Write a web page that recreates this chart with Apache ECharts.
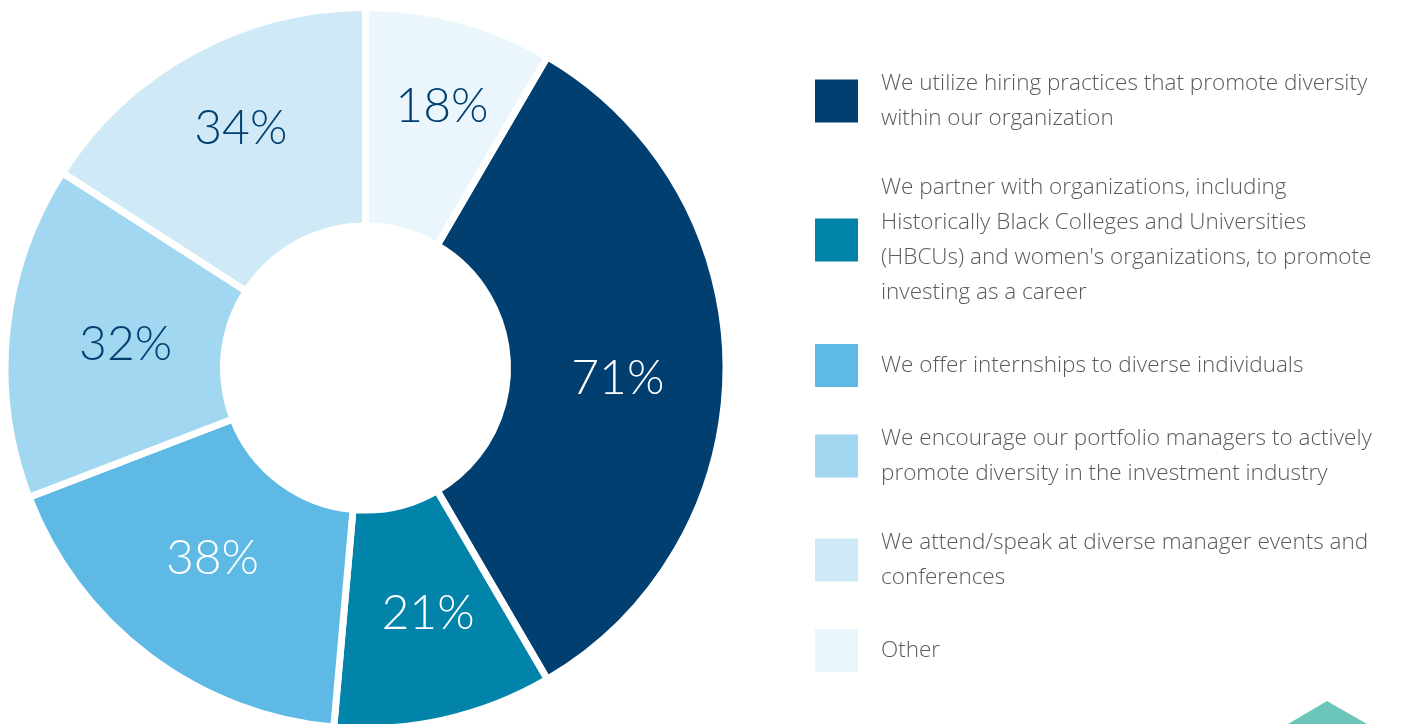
<!DOCTYPE html>
<html>
<head>
<meta charset="utf-8">
<title>Diversity initiatives</title>
<script src="https://cdn.jsdelivr.net/npm/echarts@6/dist/echarts.min.js"></script>
<style>
  html, body { margin: 0; padding: 0; background: #ffffff; }
  #chart { width: 1406px; height: 724px; }
</style>
</head>
<body>
<div id="chart"></div>
<script>
// Legend wording, one entry per answer, split into the lines shown beside the swatches
const categoryLines = [
  ['We utilize hiring practices that promote diversity', 'within our organization'],
  ['We partner with organizations, including', 'Historically Black Colleges and Universities', "(HBCUs) and women's organizations, to promote", 'investing as a career'],
  ['We offer internships to diverse individuals'],
  ['We encourage our portfolio managers to actively', 'promote diversity in the investment industry'],
  ['We attend/speak at diverse manager events and', 'conferences'],
  ['Other']
];
const categories = categoryLines.map(lines => lines.join(' '));

// Share of respondents (%)
const values = [71, 21, 38, 32, 34, 18];

// Slice fills and the colour of the percentage printed on each slice
const sliceColors = ['#013f71', '#0283aa', '#5eb9e4', '#a1d7f0', '#cfeaf6', '#eaf6fb'];
const labelColors = ['#ffffff', '#ffffff', '#ffffff', '#013f71', '#013f71', '#013f71'];
// Small hand nudges of the percentage labels away from the ring's mid-line
const labelNudges = [[-2, 11], [7, -3], [0, -13], [13, 3], [-3, -16], [10, -16]];

const total = values.reduce((a, b) => a + b, 0);
// "Other" ends exactly at twelve o'clock, so the first slice starts just after it
const startAngle = 90 - values[values.length - 1] / total * 360;

const lineMap = {};
categories.forEach((c, i) => { lineMap[c] = categoryLines[i].join('\n'); });

const chart = echarts.init(document.getElementById('chart'), null, { renderer: 'canvas' });

chart.setOption({
  animation: false,
  backgroundColor: '#ffffff',
  legend: {
    orient: 'vertical',
    left: 815,
    top: 66,
    padding: 0,
    icon: 'rect',
    itemWidth: 43,
    itemHeight: 43,
    itemGap: 34,
    selectedMode: false,
    data: categories,
    formatter: name => lineMap[name],
    // swatches are plain squares, without the white slice separators
    itemStyle: { borderWidth: 0 },
    textStyle: {
      fontFamily: 'Open Sans',
      fontWeight: 300,
      fontSize: 22.5,
      lineHeight: 35,
      color: '#5a5a5c',
      padding: [0, 0, 0, 18]
    }
  },
  series: [{
    type: 'pie',
    center: [365.5, 368],
    radius: [142, 360.5],
    startAngle: startAngle,
    clockwise: true,
    avoidLabelOverlap: false,
    silent: true,
    itemStyle: {
      borderColor: '#ffffff',
      borderWidth: 7
    },
    label: {
      show: true,
      position: 'inside',
      formatter: '{c}%',
      fontFamily: 'Lato',
      fontWeight: 300,
      fontSize: 48
    },
    labelLine: { show: false },
    data: categories.map((name, i) => ({
      name: name,
      value: values[i],
      itemStyle: { color: sliceColors[i] },
      label: { color: labelColors[i], offset: labelNudges[i] }
    }))
  }],
  graphic: [{
    // teal page ornament peeking in at the lower right
    type: 'polygon',
    silent: true,
    shape: { points: [[1288, 724], [1327, 701], [1367, 724], [1327, 747]] },
    style: { fill: '#6cc5b9' }
  }]
});
</script>
</body>
</html>
